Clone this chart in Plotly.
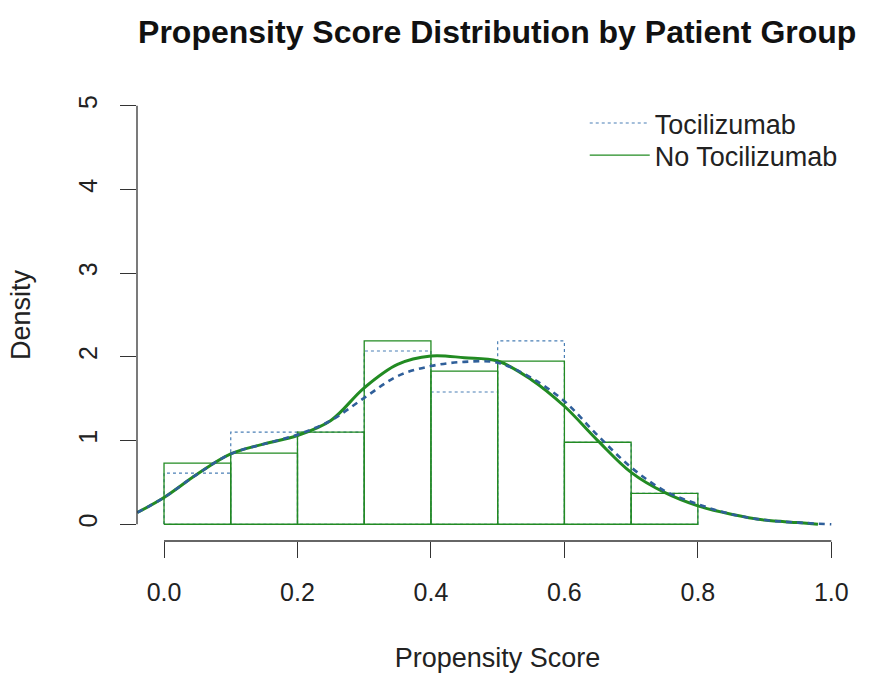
import plotly.graph_objects as go

# ---- data ----
bin_edges = [0.0, 0.1, 0.2, 0.3, 0.4, 0.5, 0.6, 0.7, 0.8]
toci_hist = [0.61, 1.10, 1.10, 2.07, 1.58, 2.19, 0.98, 0.37]
notoci_hist = [0.73, 0.85, 1.10, 2.19, 1.83, 1.95, 0.98, 0.37]

dens_x_notoci = [-0.04, 0.0, 0.05, 0.1, 0.15, 0.2, 0.25, 0.3, 0.35, 0.4, 0.45,
                 0.5, 0.55, 0.6, 0.65, 0.7, 0.75, 0.8, 0.85, 0.9, 0.95, 0.98]
dens_y_notoci = [0.14, 0.32, 0.60, 0.84, 0.96, 1.06, 1.24, 1.63, 1.91, 2.01, 1.99,
                 1.95, 1.73, 1.41, 1.00, 0.62, 0.38, 0.22, 0.12, 0.05, 0.02, 0.0]
dens_x_toci = [-0.04, 0.0, 0.05, 0.1, 0.15, 0.2, 0.25, 0.3, 0.35, 0.4, 0.45,
               0.5, 0.55, 0.6, 0.65, 0.7, 0.75, 0.8, 0.85, 0.9, 0.95, 1.0]
dens_y_toci = [0.14, 0.32, 0.60, 0.84, 0.96, 1.07, 1.24, 1.51, 1.77, 1.89, 1.94,
               1.93, 1.75, 1.47, 1.06, 0.68, 0.40, 0.24, 0.12, 0.05, 0.02, 0.0]

x_ticks = [0.0, 0.2, 0.4, 0.6, 0.8, 1.0]
y_ticks = [0, 1, 2, 3, 4, 5]

BLUE = "#4a7fb5"
GREEN = "#228B22"
FONT = "Liberation Sans"


def hist_outline(edges, heights):
    xs, ys = [], []
    for i, h in enumerate(heights):
        a, b = edges[i], edges[i + 1]
        xs += [a, a, b, b, a, None]
        ys += [0, h, h, 0, 0, None]
    return xs, ys


fig = go.Figure()

hx, hy = hist_outline(bin_edges, toci_hist)
fig.add_trace(go.Scatter(x=hx, y=hy, mode="lines", name="Tocilizumab",
                         legend="legend",
                         line=dict(color=BLUE, width=1.2, dash="dot")))
hx, hy = hist_outline(bin_edges, notoci_hist)
fig.add_trace(go.Scatter(x=hx, y=hy, mode="lines", name="No Tocilizumab",
                         legend="legend2",
                         line=dict(color=GREEN, width=1.3)))
fig.add_trace(go.Scatter(x=dens_x_notoci, y=dens_y_notoci, mode="lines",
                         line=dict(color=GREEN, width=3, shape="spline"),
                         showlegend=False))
fig.add_trace(go.Scatter(x=dens_x_toci, y=dens_y_toci, mode="lines",
                         line=dict(color="#2f5f9a", width=2.6, shape="spline",
                                   dash="6px,5px"),
                         showlegend=False))

# R-style axis lines spanning only the tick range
fig.add_shape(type="line", xref="x", yref="paper", x0=x_ticks[0], x1=x_ticks[-1],
              y0=0, y1=0, line=dict(color="#333", width=1.3))
fig.add_shape(type="line", xref="paper", yref="y", x0=0, x1=0,
              y0=y_ticks[0], y1=y_ticks[-1], line=dict(color="#333", width=1.3))

leg_common = dict(xanchor="left", yanchor="top", bgcolor="rgba(0,0,0,0)",
                  font=dict(size=27, color="#222"), itemwidth=60)

fig.update_layout(
    width=870, height=673,
    margin=dict(l=137, r=12, t=89, b=132, autoexpand=False),
    paper_bgcolor="white", plot_bgcolor="white",
    font=dict(family=FONT, size=25, color="#222"),
    title=dict(text="<b>Propensity Score Distribution by Patient Group</b>",
               x=0.5715, xanchor="center", y=0.953, yanchor="middle",
               font=dict(size=32, color="#111")),
    showlegend=True,
    legend=dict(x=0.621, y=0.978, **leg_common),
    legend2=dict(x=0.621, y=0.907, **leg_common),
    xaxis=dict(range=[-0.0405, 1.04], showgrid=False, zeroline=False,
               showline=False, tickmode="array", tickvals=x_ticks,
               ticktext=[f"{v:.1f}" for v in x_ticks], automargin=False,
               ticks="outside", ticklen=16, tickwidth=1.3, tickcolor="#333",
               ticklabelstandoff=13,
               title=dict(text="Propensity Score", standoff=45,
                          font=dict(size=27))),
    yaxis=dict(range=[-0.2, 5.2], showgrid=False, zeroline=False,
               showline=False, tickmode="array", tickvals=y_ticks,
               automargin=False,
               ticks="outside", ticklen=16, tickwidth=1.3, tickcolor="#333",
               tickangle=-90, ticklabelstandoff=13,
               title=dict(text="Density", standoff=35, font=dict(size=27))),
)

fig.write_html("out.html")
